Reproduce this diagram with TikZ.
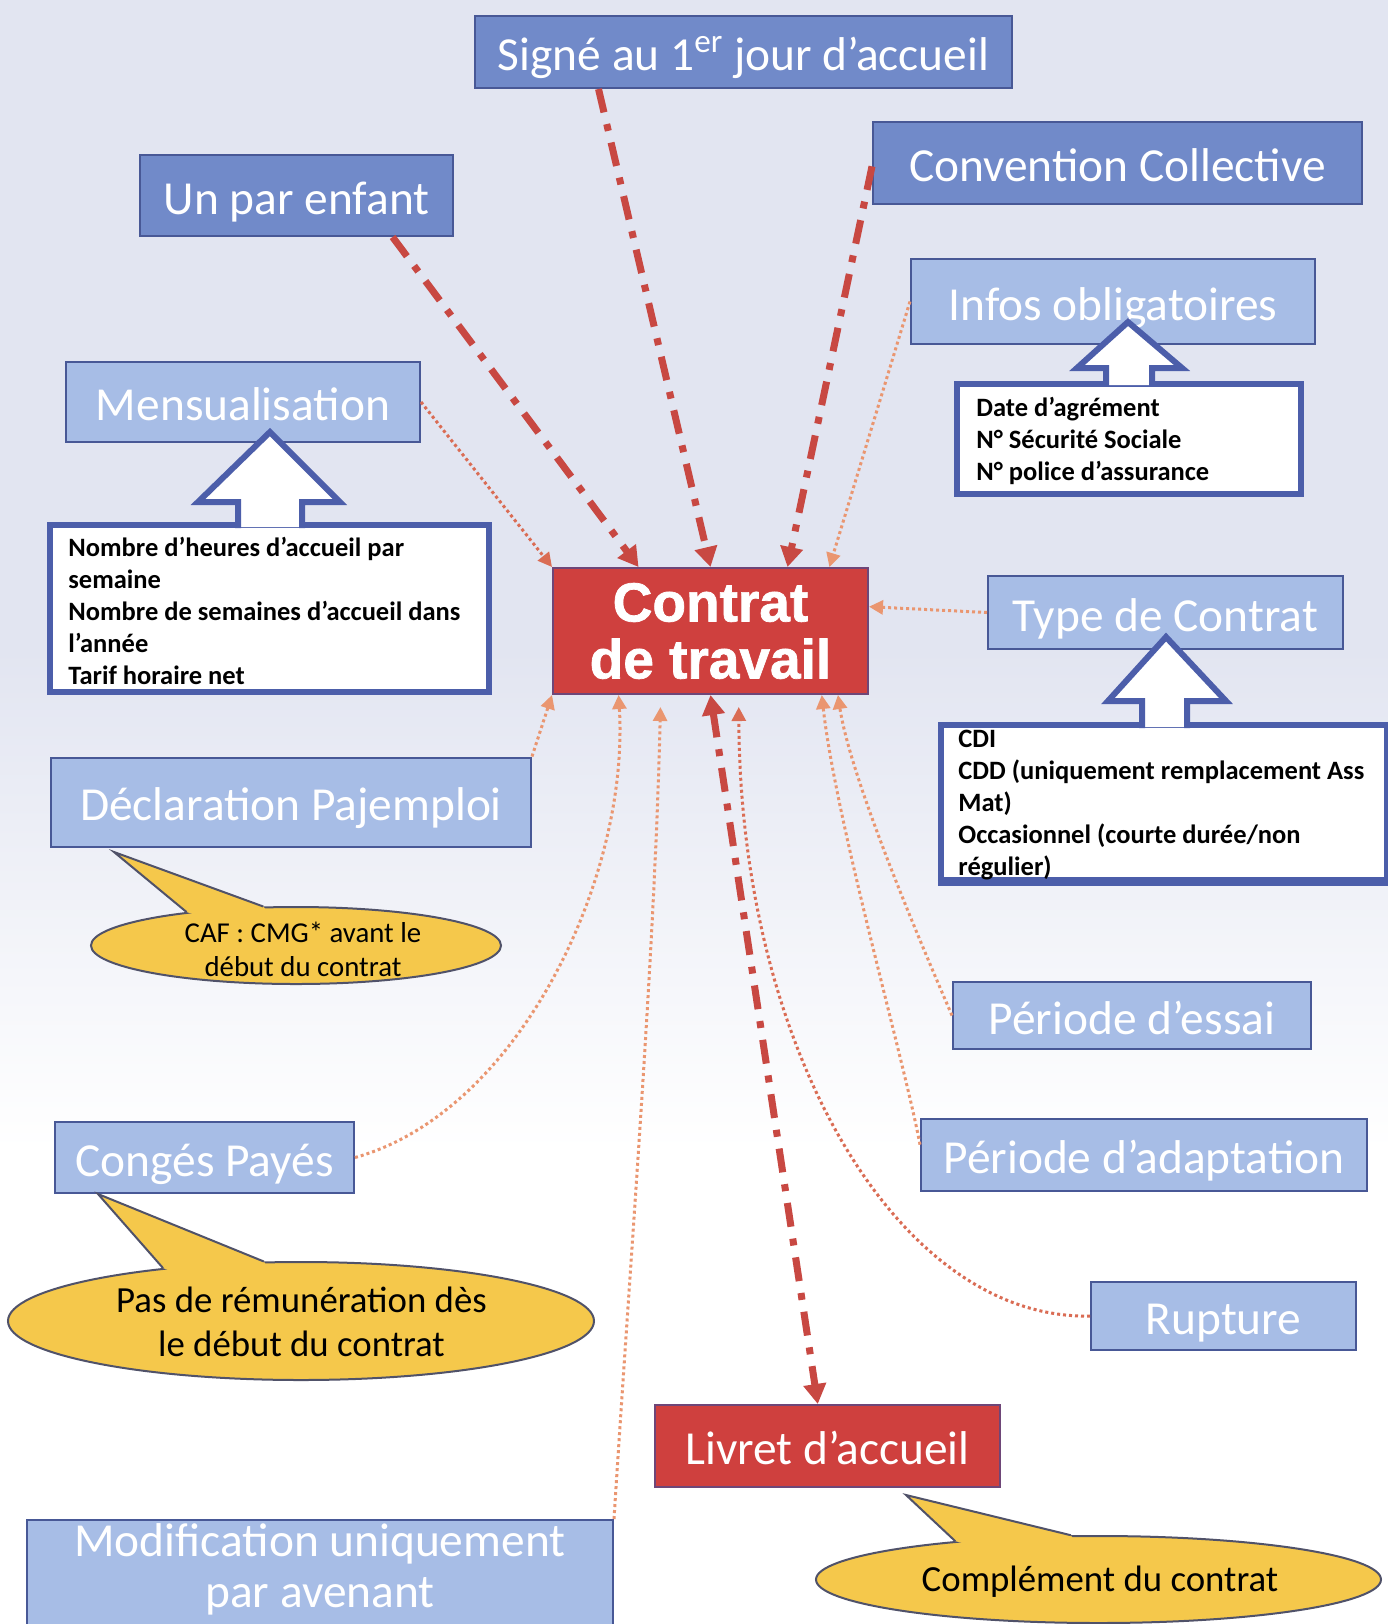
\documentclass[tikz,border=0pt]{standalone}
\usepackage{fontspec}
\setmainfont{Carlito}
\newfontfamily\arialbf[FakeBold=1.3]{Liberation Sans Bold}
\usetikzlibrary{arrows.meta,calc,shapes.geometric}
\definecolor{bgtop}{RGB}{226,229,241}
\definecolor{boxdark}{RGB}{113,138,201}
\definecolor{boxlight}{RGB}{167,189,230}
\definecolor{boxborder}{RGB}{72,88,150}
\definecolor{wborder}{RGB}{76,94,170}
\definecolor{redfill}{RGB}{207,64,62}
\definecolor{redborder}{RGB}{110,70,120}
\definecolor{redline}{RGB}{200,72,66}
\definecolor{orangeline}{RGB}{234,150,112}
\definecolor{dotred}{RGB}{218,108,84}
\definecolor{yellowc}{RGB}{245,200,75}
\definecolor{bubbleborder}{RGB}{80,82,105}
\begin{document}
\begin{tikzpicture}[x=0.5pt,y=-0.5pt,
  lblbase/.style={font=\fontsize{23.7}{26.5}\selectfont, text=white, inner sep=0pt, draw=boxborder, line width=1pt, align=center},
  lbl/.style={lblbase, text height=18.5pt, text depth=0pt},
  darkbox/.style={lbl, fill=boxdark},
  lightbox/.style={lbl, fill=boxlight},
  redbox/.style={fill=redfill, draw=redborder, line width=1pt, text=white, inner sep=0pt, align=center},
  wbox/.style={fill=white, draw=wborder, line width=3.2pt, inner sep=0pt},
  wtext/.style={font=\bfseries\fontsize{13.25}{16}\selectfont, align=left, inner sep=0pt, anchor=west, text=black},
  bubble/.style={ellipse, fill=yellowc, draw=bubbleborder, line width=1pt, inner sep=0pt},
  btext/.style={align=center, inner sep=0pt, text=black},
  blockarrow/.style={draw=wborder, line width=3pt, line join=miter},
  redarrow/.style={draw=redline, line width=3.5pt, dash pattern=on 12pt off 6pt on 3.5pt off 6pt, -{Triangle[length=10pt,width=11pt]}},
  dotarrow/.style={draw=orangeline, line width=1.5pt, dash pattern=on 1.5pt off 1.5pt, -{Triangle[length=7pt,width=7pt]}}
]
\useasboundingbox (0,0) rectangle (1388,1624);
\clip (0,0) rectangle (1388,1624);
% background
\fill[bgtop] (0,0) rectangle (1388,650);
\shade[top color=bgtop, bottom color=white] (0,649) rectangle (1388,1150);
\fill[white] (0,1149) rectangle (1388,1624);

% label boxes
\node[darkbox, minimum width=268.5pt, minimum height=36pt] (signe) at (743.5,52) {Signé au 1\textsuperscript{er} jour d’accueil};
\node[darkbox, minimum width=156.5pt, minimum height=40.5pt] (unpar) at (296.5,195.5) {Un par enfant};
\node[darkbox, minimum width=244.5pt, minimum height=41pt] (conv) at (1117.5,163) {Convention Collective};
\node[lightbox, minimum width=202pt, minimum height=42.5pt] (infos) at (1113,301.5) {Infos obligatoires};
\node[lightbox, minimum width=177pt, minimum height=40pt] (mens) at (243,402) {Mensualisation};
\node[lightbox, minimum width=177.5pt, minimum height=36.5pt] (type) at (1165.5,612.5) {Type de Contrat};
\node[lightbox, minimum width=240pt, minimum height=44.5pt] (decl) at (291,802) {Déclaration Pajemploi};
\node[lightbox, minimum width=179pt, minimum height=33.5pt] (essai) at (1132,1015.5) {Période d’essai};
\node[lightbox, minimum width=149.5pt, minimum height=35.5pt] (conges) at (204.5,1157.5) {Congés Payés};
\node[lightbox, minimum width=223pt, minimum height=36pt] (adapt) at (1144,1155) {Période d’adaptation};
\node[lightbox, minimum width=132.5pt, minimum height=34pt] (rupture) at (1223.5,1316) {Rupture};
\node[lblbase, fill=boxlight, minimum width=293pt, minimum height=65pt] (modif) at (320,1585) {};
\node[align=center, inner sep=0pt, text=white, font=\fontsize{23.7}{25.5}\selectfont] (modiftxt) at (320,1569) {Modification uniquement\\par avenant};
\node[redbox, minimum width=172.5pt, minimum height=41pt, font=\fontsize{23.7}{26.5}\selectfont, text height=18.5pt, text depth=0pt] (livret) at (827.5,1446) {Livret d’accueil};
\node[redbox, minimum width=157.5pt, minimum height=63pt, font=\arialbf\fontsize{27.5}{28.5}\selectfont] (contrat) at (710.5,631) {Contrat\\de travail};

% white detail boxes
\node[wbox, minimum width=172pt, minimum height=55pt] (infobox) at (1129,439) {};
\node[wtext] (infotxt) at (976,441) {Date d’agrément\\N° Sécurité Sociale\\N° police d’assurance};
\node[wbox, minimum width=219.5pt, minimum height=83.5pt] (mensbox) at (269.5,608.5) {};
\node[wtext] (menstxt) at (68,611) {Nombre d’heures d’accueil par\\semaine\\Nombre de semaines d’accueil dans\\l’année\\Tarif horaire net};
\node[wbox, minimum width=223pt, minimum height=77.5pt] (typebox) at (1164,802.5) {};
\node[wtext] (typetxt) at (958,805) {CDI\\CDD (uniquement remplacement Ass\\Mat)\\Occasionnel (courte durée/non\\régulier)};
\draw[wborder, line width=3.2pt] (typebox.south west) -- (typebox.south east);

% block arrows
\fill[white] (1106,385) -- (1106,368) -- (1077,368) -- (1128,322) -- (1182,368) -- (1152,368) -- (1152,385) -- cycle;
\draw[blockarrow] (1106,386) -- (1106,368) -- (1077,368) -- (1128,322) -- (1182,368) -- (1152,368) -- (1152,386);
\fill[white] (238,527) -- (238,502) -- (198,502) -- (270,432) -- (340,502) -- (302,502) -- (302,527) -- cycle;
\draw[blockarrow] (238,528) -- (238,502) -- (198,502) -- (270,432) -- (340,502) -- (302,502) -- (302,528);
\fill[white] (1142,727) -- (1142,701) -- (1108,701) -- (1166,637) -- (1226,701) -- (1187,701) -- (1187,727) -- cycle;
\draw[blockarrow] (1142,728) -- (1142,701) -- (1108,701) -- (1166,637) -- (1226,701) -- (1187,701) -- (1187,728);

% callouts
\node[bubble, minimum width=205pt, minimum height=38.5pt] (caf) at (296,945.5) {};
\coordinate (caftip) at (114,852);
\fill[yellowc] (caftip) -- (caf.163) -- ($(caf.center)!0.8!(caf.163)$) -- ($(caf.center)!0.8!(caf.130)$) -- (caf.130) -- cycle;
\draw[bubbleborder, line width=1pt, line join=miter] (caf.163) -- (caftip) -- (caf.130);
\node[btext, font=\fontsize{14.4}{17}\selectfont] (caftxt) at (303,949) {CAF : CMG* avant le\\début du contrat};

\node[bubble, minimum width=293pt, minimum height=59pt] (pasde) at (301,1321) {};
\coordinate (pastip) at (98,1194);
\fill[yellowc] (pastip) -- (pasde.159) -- ($(pasde.center)!0.8!(pasde.159)$) -- ($(pasde.center)!0.8!(pasde.122)$) -- (pasde.122) -- cycle;
\draw[bubbleborder, line width=1pt, line join=miter] (pasde.159) -- (pastip) -- (pasde.122);
\node[btext, font=\fontsize{18.4}{21.75}\selectfont] (pastxt) at (301.5,1322) {Pas de rémunération dès\\le début du contrat};

\node[bubble, minimum width=282.5pt, minimum height=43.5pt] (compl) at (1098.5,1579.5) {};
\coordinate (compltip) at (906,1495);
\fill[yellowc] (compltip) -- (compl.165) -- ($(compl.center)!0.8!(compl.165)$) -- ($(compl.center)!0.8!(compl.122)$) -- (compl.122) -- cycle;
\draw[bubbleborder, line width=1pt, line join=miter] (compl.165) -- (compltip) -- (compl.122);
\node[btext, font=\fontsize{18.4}{21.75}\selectfont] (compltxt) at (1100,1582) {Complément du contrat};

% thick red connectors
\draw[redarrow] ($(signe.south west)!0.231!(signe.south east)$) -- (contrat.north);
\draw[redarrow] ($(unpar.south west)!0.805!(unpar.south east)$) -- ($(contrat.north west)!0.273!(contrat.north east)$);
\draw[redarrow] ($(conv.north west)!0.54!(conv.south west)$) -- ($(contrat.north west)!0.743!(contrat.north east)$);
\draw[redarrow, {Triangle[length=10pt,width=11pt]}-{Triangle[length=10pt,width=11pt]}] (contrat.south) -- ($(livret.north west)!0.472!(livret.north east)$);

% dotted connectors
\draw[dotarrow] (infos.west) -- ($(contrat.north west)!0.875!(contrat.north east)$);
\draw[dotarrow, draw=dotred] (mens.east) -- (contrat.north west);
\draw[dotarrow] (type.west) -- ($(contrat.north east)!0.31!(contrat.south east)$);
\draw[dotarrow] (decl.north east) -- (contrat.south west);
\draw[dotarrow] (conges.east) .. controls +(163,-45) and +(11,184) .. ($(contrat.south west)!0.21!(contrat.south east)$);
\draw[dotarrow, shorten >=6pt] (modif.north east) .. controls +(17,-270) and +(-6,256) .. ($(contrat.south west)!0.343!(contrat.south east)$);
\draw[dotarrow, draw=dotred, shorten >=6pt] (rupture.west) .. controls +(-191,4) and +(1.5,356) .. ($(contrat.south west)!0.589!(contrat.south east)$);
\draw[dotarrow] ($(adapt.north west)!0.36!(adapt.south west)$) .. controls +(-16,-85) and +(14,126) .. ($(contrat.south west)!0.851!(contrat.south east)$);
\draw[dotarrow] (essai.west) .. controls +(-28,-65) and +(13,86) .. ($(contrat.south west)!0.902!(contrat.south east)$);
\end{tikzpicture}
\end{document}
